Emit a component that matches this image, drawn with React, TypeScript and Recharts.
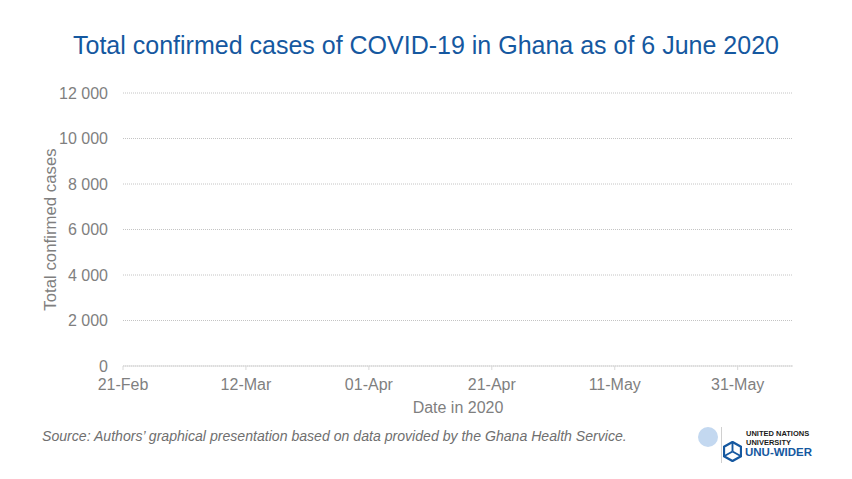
import React from "react";
import { LineChart, Line, XAxis, YAxis, CartesianGrid, Label } from "recharts";

// Day offsets from 21 Feb 2020
const dayOffsets = [0, 20, 40, 60, 80, 100, 109];
const xTickDays = [0, 20, 40, 60, 80, 100];
const xTickLabels = ["21-Feb", "12-Mar", "01-Apr", "21-Apr", "11-May", "31-May"];
const yTicks = [0, 2000, 4000, 6000, 8000, 10000, 12000];
const yTickLabels = ["0", "2 000", "4 000", "6 000", "8 000", "10 000", "12 000"];
// No visible case series in the reference picture
const caseValues: (number | null)[] = [null, null, null, null, null, null, null];

const data = dayOffsets.map((d, i) => ({ day: d, cases: caseValues[i] }));

const FONT = "'Liberation Sans', Arial, sans-serif";
const GREY = "#7f7f7f";

export default function App() {
  return (
    <div style={{ position: "absolute", left: 0, top: 0, width: 852, height: 479, background: "#fff", fontFamily: FONT }}>
      <div style={{ position: "absolute", left: 0, top: 31, width: 852, textAlign: "center", fontSize: 25, color: "#1558a0" }}>
        Total confirmed cases of COVID-19 in Ghana as of 6 June 2020
      </div>
      <LineChart
        width={852}
        height={479}
        data={data}
        margin={{ top: 93, right: 59, bottom: 83, left: 43 }}
        style={{ position: "absolute", left: 0, top: 0 }}
      >
        <CartesianGrid vertical={false} stroke="#c4c4c4" strokeDasharray="1 1" />
        <XAxis
          dataKey="day"
          type="number"
          domain={[0, 109]}
          allowDataOverflow
          ticks={xTickDays}
          tickFormatter={(v: number) => xTickLabels[xTickDays.indexOf(v)] ?? ""}
          height={30}
          stroke="#d9d9d9"
          tickSize={4}
          tickMargin={9}
          tick={{ fill: GREY, fontSize: 16, fontFamily: FONT }}
          interval={0}
        >
          <Label value="Date in 2020" position="insideBottom" offset={-17} style={{ fill: GREY, fontSize: 16, fontFamily: FONT }} />
        </XAxis>
        <YAxis
          type="number"
          domain={[0, 12000]}
          allowDataOverflow
          ticks={yTicks}
          tickFormatter={(v: number) => yTickLabels[yTicks.indexOf(v)] ?? ""}
          width={80}
          axisLine={false}
          tickLine={false}
          tickSize={0}
          tickMargin={15}
          tick={{ fill: GREY, fontSize: 16, fontFamily: FONT }}
          interval={0}
        >
          <Label value="Total confirmed cases" angle={-90} position="insideLeft" offset={7} style={{ fill: GREY, fontSize: 16.8, fontFamily: FONT, textAnchor: "middle" }} />
        </YAxis>
        <Line type="linear" dataKey="cases" stroke="#1558a0" dot={false} isAnimationActive={false} connectNulls={false} />
      </LineChart>
      <div style={{ position: "absolute", left: 42, top: 428, fontSize: 14.1, fontStyle: "italic", color: "#6f6f6f" }}>
        Source: Authors’ graphical presentation based on data provided by the Ghana Health Service.
      </div>
      <div style={{ position: "absolute", left: 698, top: 427, width: 20, height: 20, borderRadius: 10, background: "#c3d8f0" }} />
      <div style={{ position: "absolute", left: 721, top: 427, width: 1, height: 36, background: "#d0d0d0" }} />
      <div style={{ position: "absolute", left: 746, top: 429, fontSize: 7.5, fontWeight: "bold", color: "#1a1a1a", lineHeight: "9px" }}>
        UNITED NATIONS<br />UNIVERSITY
      </div>
      <svg style={{ position: "absolute", left: 723, top: 441 }} width={19} height={21} viewBox="0 0 20 22">
        <polygon points="10,1 19,6 19,16 10,21 1,16 1,6" fill="none" stroke="#1558a0" strokeWidth={2.5} />
        <line x1={10} y1={11} x2={10} y2={1} stroke="#1558a0" strokeWidth={2} />
        <line x1={10} y1={11} x2={1} y2={16} stroke="#1558a0" strokeWidth={2} />
        <line x1={10} y1={11} x2={19} y2={16} stroke="#1558a0" strokeWidth={2} />
      </svg>
      <div style={{ position: "absolute", left: 745, top: 446, fontSize: 11.5, fontWeight: "bold", color: "#1558a0" }}>
        UNU-WIDER
      </div>
    </div>
  );
}
